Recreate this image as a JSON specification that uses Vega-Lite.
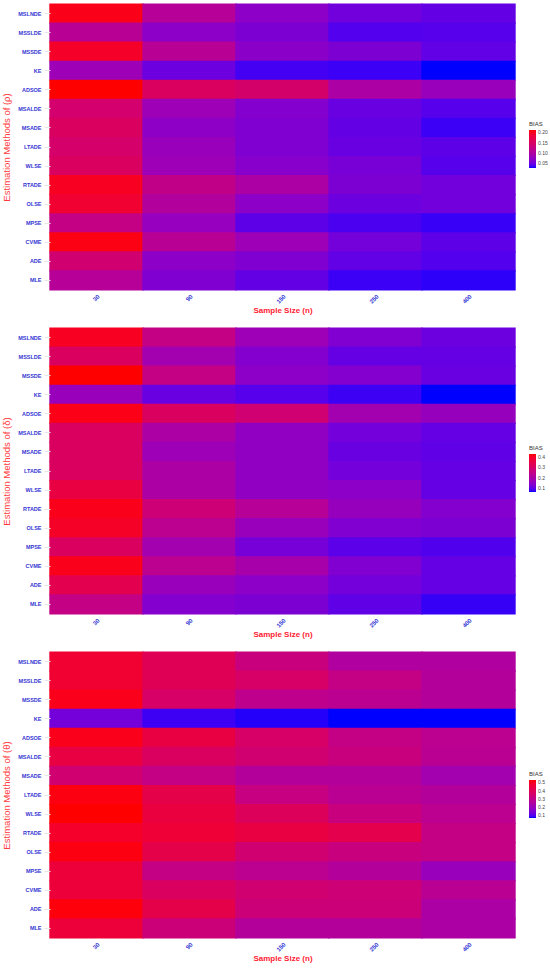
{
  "$schema": "https://vega.github.io/schema/vega-lite/v6.json",
  "padding": {"left": 1, "top": 3, "right": 0, "bottom": 0},
  "background": "white",
  "spacing": 12,
  "config": {
    "view": {"stroke": null},
    "font": "Liberation Sans",
    "axisY": {
      "labelFontSize": 5.5, "labelFontWeight": "bold", "labelColor": "#3535D2",
      "tickColor": "#E6E6E6", "tickSize": 6, "labelPadding": 3, "domain": false,
      "titleColor": "#FF3B3B", "titleFontSize": 9.5, "titleFontWeight": "normal", "titlePadding": 6
    },
    "axisX": {
      "labelAngle": -45, "labelFontSize": 6, "labelFontWeight": "bold", "labelColor": "#3535D2",
      "ticks": false, "domain": false, "labelPadding": 3,
      "titleColor": "#FF1A33", "titleFontSize": 8, "titleFontWeight": "bold", "titlePadding": 2
    },
    "legend": {
      "titleFontSize": 6, "titleFontWeight": "normal", "titleColor": "#333333", "titlePadding": 3,
      "labelFontSize": 5, "labelColor": "#444444", "labelOffset": 3,
      "gradientLength": 38, "gradientThickness": 7, "gradientStrokeWidth": 0
    }
  },
  "datasets": {
    "rho": [
      {"method": "MSLNDE", "n": 30, "bias": 0.202}, {"method": "MSLNDE", "n": 90, "bias": 0.106}, {"method": "MSLNDE", "n": 150, "bias": 0.069}, {"method": "MSLNDE", "n": 250, "bias": 0.052}, {"method": "MSLNDE", "n": 400, "bias": 0.046},
      {"method": "MSSLDE", "n": 30, "bias": 0.109}, {"method": "MSSLDE", "n": 90, "bias": 0.069}, {"method": "MSSLDE", "n": 150, "bias": 0.059}, {"method": "MSSLDE", "n": 250, "bias": 0.039}, {"method": "MSSLDE", "n": 400, "bias": 0.041},
      {"method": "MSSDE", "n": 30, "bias": 0.193}, {"method": "MSSDE", "n": 90, "bias": 0.109}, {"method": "MSSDE", "n": 150, "bias": 0.067}, {"method": "MSSDE", "n": 250, "bias": 0.059}, {"method": "MSSDE", "n": 400, "bias": 0.045},
      {"method": "KE", "n": 30, "bias": 0.082}, {"method": "KE", "n": 90, "bias": 0.050}, {"method": "KE", "n": 150, "bias": 0.035}, {"method": "KE", "n": 250, "bias": 0.033}, {"method": "KE", "n": 400, "bias": 0.026},
      {"method": "ADSOE", "n": 30, "bias": 0.211}, {"method": "ADSOE", "n": 90, "bias": 0.152}, {"method": "ADSOE", "n": 150, "bias": 0.143}, {"method": "ADSOE", "n": 250, "bias": 0.096}, {"method": "ADSOE", "n": 400, "bias": 0.078},
      {"method": "MSALDE", "n": 30, "bias": 0.141}, {"method": "MSALDE", "n": 90, "bias": 0.082}, {"method": "MSALDE", "n": 150, "bias": 0.063}, {"method": "MSALDE", "n": 250, "bias": 0.048}, {"method": "MSALDE", "n": 400, "bias": 0.041},
      {"method": "MSADE", "n": 30, "bias": 0.152}, {"method": "MSADE", "n": 90, "bias": 0.070}, {"method": "MSADE", "n": 150, "bias": 0.061}, {"method": "MSADE", "n": 250, "bias": 0.046}, {"method": "MSADE", "n": 400, "bias": 0.033},
      {"method": "LTADE", "n": 30, "bias": 0.144}, {"method": "LTADE", "n": 90, "bias": 0.078}, {"method": "LTADE", "n": 150, "bias": 0.061}, {"method": "LTADE", "n": 250, "bias": 0.048}, {"method": "LTADE", "n": 400, "bias": 0.043},
      {"method": "WLSE", "n": 30, "bias": 0.152}, {"method": "WLSE", "n": 90, "bias": 0.082}, {"method": "WLSE", "n": 150, "bias": 0.065}, {"method": "WLSE", "n": 250, "bias": 0.056}, {"method": "WLSE", "n": 400, "bias": 0.041},
      {"method": "RTADE", "n": 30, "bias": 0.198}, {"method": "RTADE", "n": 90, "bias": 0.119}, {"method": "RTADE", "n": 150, "bias": 0.096}, {"method": "RTADE", "n": 250, "bias": 0.059}, {"method": "RTADE", "n": 400, "bias": 0.052},
      {"method": "OLSE", "n": 30, "bias": 0.187}, {"method": "OLSE", "n": 90, "bias": 0.102}, {"method": "OLSE", "n": 150, "bias": 0.069}, {"method": "OLSE", "n": 250, "bias": 0.050}, {"method": "OLSE", "n": 400, "bias": 0.052},
      {"method": "MPSE", "n": 30, "bias": 0.122}, {"method": "MPSE", "n": 90, "bias": 0.076}, {"method": "MPSE", "n": 150, "bias": 0.043}, {"method": "MPSE", "n": 250, "bias": 0.037}, {"method": "MPSE", "n": 400, "bias": 0.032},
      {"method": "CVME", "n": 30, "bias": 0.205}, {"method": "CVME", "n": 90, "bias": 0.109}, {"method": "CVME", "n": 150, "bias": 0.082}, {"method": "CVME", "n": 250, "bias": 0.054}, {"method": "CVME", "n": 400, "bias": 0.043},
      {"method": "ADE", "n": 30, "bias": 0.137}, {"method": "ADE", "n": 90, "bias": 0.069}, {"method": "ADE", "n": 150, "bias": 0.061}, {"method": "ADE", "n": 250, "bias": 0.045}, {"method": "ADE", "n": 400, "bias": 0.039},
      {"method": "MLE", "n": 30, "bias": 0.106}, {"method": "MLE", "n": 90, "bias": 0.061}, {"method": "MLE", "n": 150, "bias": 0.046}, {"method": "MLE", "n": 250, "bias": 0.033}, {"method": "MLE", "n": 400, "bias": 0.030}
    ],
    "delta": [
      {"method": "MSLNDE", "n": 30, "bias": 0.400}, {"method": "MSLNDE", "n": 90, "bias": 0.251}, {"method": "MSLNDE", "n": 150, "bias": 0.172}, {"method": "MSLNDE", "n": 250, "bias": 0.132}, {"method": "MSLNDE", "n": 400, "bias": 0.110},
      {"method": "MSSLDE", "n": 30, "bias": 0.309}, {"method": "MSSLDE", "n": 90, "bias": 0.182}, {"method": "MSSLDE", "n": 150, "bias": 0.135}, {"method": "MSSLDE", "n": 250, "bias": 0.103}, {"method": "MSSLDE", "n": 400, "bias": 0.103},
      {"method": "MSSDE", "n": 30, "bias": 0.425}, {"method": "MSSDE", "n": 90, "bias": 0.251}, {"method": "MSSDE", "n": 150, "bias": 0.146}, {"method": "MSSDE", "n": 250, "bias": 0.135}, {"method": "MSSDE", "n": 400, "bias": 0.106},
      {"method": "KE", "n": 30, "bias": 0.164}, {"method": "KE", "n": 90, "bias": 0.106}, {"method": "KE", "n": 150, "bias": 0.092}, {"method": "KE", "n": 250, "bias": 0.077}, {"method": "KE", "n": 400, "bias": 0.063},
      {"method": "ADSOE", "n": 30, "bias": 0.411}, {"method": "ADSOE", "n": 90, "bias": 0.309}, {"method": "ADSOE", "n": 150, "bias": 0.280}, {"method": "ADSOE", "n": 250, "bias": 0.182}, {"method": "ADSOE", "n": 400, "bias": 0.161},
      {"method": "MSALDE", "n": 30, "bias": 0.309}, {"method": "MSALDE", "n": 90, "bias": 0.201}, {"method": "MSALDE", "n": 150, "bias": 0.154}, {"method": "MSALDE", "n": 250, "bias": 0.117}, {"method": "MSALDE", "n": 400, "bias": 0.103},
      {"method": "MSADE", "n": 30, "bias": 0.309}, {"method": "MSADE", "n": 90, "bias": 0.172}, {"method": "MSADE", "n": 150, "bias": 0.154}, {"method": "MSADE", "n": 250, "bias": 0.106}, {"method": "MSADE", "n": 400, "bias": 0.099},
      {"method": "LTADE", "n": 30, "bias": 0.309}, {"method": "LTADE", "n": 90, "bias": 0.201}, {"method": "LTADE", "n": 150, "bias": 0.154}, {"method": "LTADE", "n": 250, "bias": 0.117}, {"method": "LTADE", "n": 400, "bias": 0.103},
      {"method": "WLSE", "n": 30, "bias": 0.353}, {"method": "WLSE", "n": 90, "bias": 0.201}, {"method": "WLSE", "n": 150, "bias": 0.154}, {"method": "WLSE", "n": 250, "bias": 0.146}, {"method": "WLSE", "n": 400, "bias": 0.103},
      {"method": "RTADE", "n": 30, "bias": 0.407}, {"method": "RTADE", "n": 90, "bias": 0.273}, {"method": "RTADE", "n": 150, "bias": 0.219}, {"method": "RTADE", "n": 250, "bias": 0.161}, {"method": "RTADE", "n": 400, "bias": 0.135},
      {"method": "OLSE", "n": 30, "bias": 0.392}, {"method": "OLSE", "n": 90, "bias": 0.233}, {"method": "OLSE", "n": 150, "bias": 0.164}, {"method": "OLSE", "n": 250, "bias": 0.132}, {"method": "OLSE", "n": 400, "bias": 0.128},
      {"method": "MPSE", "n": 30, "bias": 0.309}, {"method": "MPSE", "n": 90, "bias": 0.182}, {"method": "MPSE", "n": 150, "bias": 0.121}, {"method": "MPSE", "n": 250, "bias": 0.096}, {"method": "MPSE", "n": 400, "bias": 0.088},
      {"method": "CVME", "n": 30, "bias": 0.407}, {"method": "CVME", "n": 90, "bias": 0.233}, {"method": "CVME", "n": 150, "bias": 0.190}, {"method": "CVME", "n": 250, "bias": 0.132}, {"method": "CVME", "n": 400, "bias": 0.103},
      {"method": "ADE", "n": 30, "bias": 0.335}, {"method": "ADE", "n": 90, "bias": 0.164}, {"method": "ADE", "n": 150, "bias": 0.146}, {"method": "ADE", "n": 250, "bias": 0.117}, {"method": "ADE", "n": 400, "bias": 0.103},
      {"method": "MLE", "n": 30, "bias": 0.251}, {"method": "MLE", "n": 90, "bias": 0.135}, {"method": "MLE", "n": 150, "bias": 0.128}, {"method": "MLE", "n": 250, "bias": 0.099}, {"method": "MLE", "n": 400, "bias": 0.074}
    ],
    "theta": [
      {"method": "MSLNDE", "n": 30, "bias": 0.469}, {"method": "MSLNDE", "n": 90, "bias": 0.398}, {"method": "MSLNDE", "n": 150, "bias": 0.319}, {"method": "MSLNDE", "n": 250, "bias": 0.248}, {"method": "MSLNDE", "n": 400, "bias": 0.248},
      {"method": "MSSLDE", "n": 30, "bias": 0.469}, {"method": "MSSLDE", "n": 90, "bias": 0.398}, {"method": "MSSLDE", "n": 150, "bias": 0.366}, {"method": "MSSLDE", "n": 250, "bias": 0.304}, {"method": "MSSLDE", "n": 400, "bias": 0.257},
      {"method": "MSSDE", "n": 30, "bias": 0.507}, {"method": "MSSDE", "n": 90, "bias": 0.366}, {"method": "MSSDE", "n": 150, "bias": 0.286}, {"method": "MSSDE", "n": 250, "bias": 0.276}, {"method": "MSSDE", "n": 400, "bias": 0.257},
      {"method": "KE", "n": 30, "bias": 0.131}, {"method": "KE", "n": 90, "bias": 0.079}, {"method": "KE", "n": 150, "bias": 0.067}, {"method": "KE", "n": 250, "bias": 0.060}, {"method": "KE", "n": 400, "bias": 0.060},
      {"method": "ADSOE", "n": 30, "bias": 0.507}, {"method": "ADSOE", "n": 90, "bias": 0.436}, {"method": "ADSOE", "n": 150, "bias": 0.366}, {"method": "ADSOE", "n": 250, "bias": 0.304}, {"method": "ADSOE", "n": 400, "bias": 0.281},
      {"method": "MSALDE", "n": 30, "bias": 0.436}, {"method": "MSALDE", "n": 90, "bias": 0.380}, {"method": "MSALDE", "n": 150, "bias": 0.342}, {"method": "MSALDE", "n": 250, "bias": 0.319}, {"method": "MSALDE", "n": 400, "bias": 0.272},
      {"method": "MSADE", "n": 30, "bias": 0.342}, {"method": "MSADE", "n": 90, "bias": 0.304}, {"method": "MSADE", "n": 150, "bias": 0.257}, {"method": "MSADE", "n": 250, "bias": 0.257}, {"method": "MSADE", "n": 400, "bias": 0.215},
      {"method": "LTADE", "n": 30, "bias": 0.516}, {"method": "LTADE", "n": 90, "bias": 0.422}, {"method": "LTADE", "n": 150, "bias": 0.309}, {"method": "LTADE", "n": 250, "bias": 0.272}, {"method": "LTADE", "n": 400, "bias": 0.257},
      {"method": "WLSE", "n": 30, "bias": 0.530}, {"method": "WLSE", "n": 90, "bias": 0.445}, {"method": "WLSE", "n": 150, "bias": 0.389}, {"method": "WLSE", "n": 250, "bias": 0.319}, {"method": "WLSE", "n": 400, "bias": 0.281},
      {"method": "RTADE", "n": 30, "bias": 0.483}, {"method": "RTADE", "n": 90, "bias": 0.460}, {"method": "RTADE", "n": 150, "bias": 0.436}, {"method": "RTADE", "n": 250, "bias": 0.417}, {"method": "RTADE", "n": 400, "bias": 0.304},
      {"method": "OLSE", "n": 30, "bias": 0.516}, {"method": "OLSE", "n": 90, "bias": 0.422}, {"method": "OLSE", "n": 150, "bias": 0.342}, {"method": "OLSE", "n": 250, "bias": 0.319}, {"method": "OLSE", "n": 400, "bias": 0.304},
      {"method": "MPSE", "n": 30, "bias": 0.455}, {"method": "MPSE", "n": 90, "bias": 0.304}, {"method": "MPSE", "n": 150, "bias": 0.281}, {"method": "MPSE", "n": 250, "bias": 0.257}, {"method": "MPSE", "n": 400, "bias": 0.192},
      {"method": "CVME", "n": 30, "bias": 0.455}, {"method": "CVME", "n": 90, "bias": 0.380}, {"method": "CVME", "n": 150, "bias": 0.342}, {"method": "CVME", "n": 250, "bias": 0.333}, {"method": "CVME", "n": 400, "bias": 0.272},
      {"method": "ADE", "n": 30, "bias": 0.521}, {"method": "ADE", "n": 90, "bias": 0.422}, {"method": "ADE", "n": 150, "bias": 0.328}, {"method": "ADE", "n": 250, "bias": 0.328}, {"method": "ADE", "n": 400, "bias": 0.239},
      {"method": "MLE", "n": 30, "bias": 0.455}, {"method": "MLE", "n": 90, "bias": 0.328}, {"method": "MLE", "n": 150, "bias": 0.257}, {"method": "MLE", "n": 250, "bias": 0.257}, {"method": "MLE", "n": 400, "bias": 0.239}
    ]
  },
  "vconcat": [
    {
      "width": 465, "height": 286,
      "data": {"name": "rho"},
      "mark": {"type": "rect", "width": {"band": 1.015}, "height": {"band": 1.06}},
      "encoding": {
        "x": {"field": "n", "type": "ordinal", "title": "Sample Size (n)"},
        "y": {"field": "method", "type": "nominal", "title": "Estimation Methods of (ρ)",
              "sort": ["MSLNDE", "MSSLDE", "MSSDE", "KE", "ADSOE", "MSALDE", "MSADE", "LTADE", "WLSE", "RTADE", "OLSE", "MPSE", "CVME", "ADE", "MLE"]},
        "color": {"field": "bias", "type": "quantitative", "title": "BIAS",
                  "scale": {"domain": [0.026, 0.211], "range": ["#0000FF", "#FF0000"], "interpolate": "lab"},
                  "legend": {"orient": "none", "legendX": 479, "legendY": 117, "values": [0.05, 0.1, 0.15, 0.2], "format": ".2f"}}
      }
    },
    {
      "width": 465, "height": 286,
      "data": {"name": "delta"},
      "mark": {"type": "rect", "width": {"band": 1.015}, "height": {"band": 1.06}},
      "encoding": {
        "x": {"field": "n", "type": "ordinal", "title": "Sample Size (n)"},
        "y": {"field": "method", "type": "nominal", "title": "Estimation Methods of (δ)",
              "sort": ["MSLNDE", "MSSLDE", "MSSDE", "KE", "ADSOE", "MSALDE", "MSADE", "LTADE", "WLSE", "RTADE", "OLSE", "MPSE", "CVME", "ADE", "MLE"]},
        "color": {"field": "bias", "type": "quantitative", "title": "BIAS",
                  "scale": {"domain": [0.063, 0.425], "range": ["#0000FF", "#FF0000"], "interpolate": "lab"},
                  "legend": {"orient": "none", "legendX": 479, "legendY": 117, "values": [0.1, 0.2, 0.3, 0.4], "format": ".1f"}}
      }
    },
    {
      "width": 465, "height": 286,
      "data": {"name": "theta"},
      "mark": {"type": "rect", "width": {"band": 1.015}, "height": {"band": 1.06}},
      "encoding": {
        "x": {"field": "n", "type": "ordinal", "title": "Sample Size (n)"},
        "y": {"field": "method", "type": "nominal", "title": "Estimation Methods of (θ)",
              "sort": ["MSLNDE", "MSSLDE", "MSSDE", "KE", "ADSOE", "MSALDE", "MSADE", "LTADE", "WLSE", "RTADE", "OLSE", "MPSE", "CVME", "ADE", "MLE"]},
        "color": {"field": "bias", "type": "quantitative", "title": "BIAS",
                  "scale": {"domain": [0.06, 0.53], "range": ["#0000FF", "#FF0000"], "interpolate": "lab"},
                  "legend": {"orient": "none", "legendX": 479, "legendY": 119, "values": [0.1, 0.2, 0.3, 0.4, 0.5], "format": ".1f"}}
      }
    }
  ],
  "resolve": {"scale": {"color": "independent"}}
}
